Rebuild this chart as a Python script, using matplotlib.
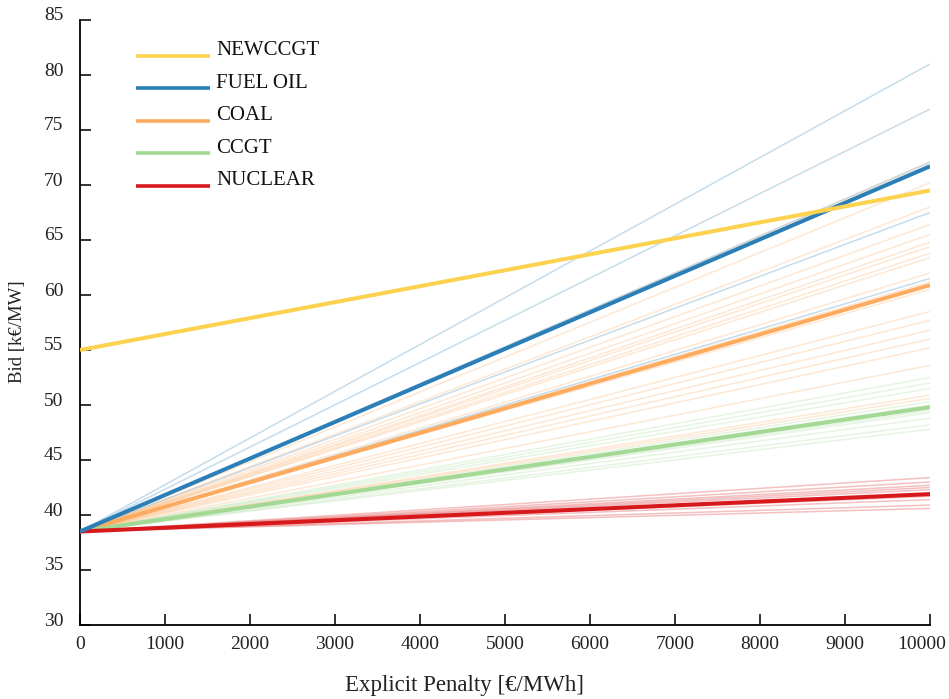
import numpy as np
import matplotlib.pyplot as plt
from matplotlib import transforms

plt.rcParams['font.family'] = ['Liberation Serif', 'DejaVu Serif']

penalty = [0, 10000]
start_bid = 38.5

# technology: (bid at 0, bid at 10000) for the reference case
technologies = ["NEWCCGT", "FUEL OIL", "COAL", "CCGT", "NUCLEAR"]
main_start = [55.0, 38.5, 38.5, 38.5, 38.5]
main_end = [69.5, 71.7, 60.9, 49.8, 41.9]
colors = ["#fdd24f", "#2b7fb8", "#fdab5f", "#a3d995", "#d7191c"]

# bids at 10000 for the other scenarios
fuel_oil_ends = [81.0, 76.9, 72.1, 67.5, 61.5]
coal_ends = [72.0, 70.2, 68.0, 66.4, 65.5, 64.8, 64.4, 63.8, 63.4, 60.5, 58.5,
             57.7, 56.8, 56.0, 55.2, 53.6, 50.9, 50.6, 61.2, 62.0]
ccgt_ends = [52.5, 52.0, 51.5, 50.3, 49.3, 48.8, 48.2, 47.8, 50.0, 49.5]
nuclear_ends = [43.4, 43.0, 42.5, 42.3, 41.4, 40.9, 40.6, 42.7, 41.7]

fig = plt.figure(figsize=(9.49, 6.99), dpi=100)
ax = fig.add_axes([80 / 949, 1 - 625 / 699, 850 / 949, 605 / 699])

for ends, c in [(fuel_oil_ends, colors[1]), (coal_ends, colors[2]),
                (ccgt_ends, colors[3]), (nuclear_ends, colors[4])]:
    for e in ends:
        ax.plot(penalty, [start_bid, e], color=c, lw=1.1, alpha=0.27,
                solid_capstyle='butt')

for i in [2, 3, 4, 1, 0]:
    ax.plot(penalty, [main_start[i], main_end[i]], color=colors[i], lw=2.9,
            solid_capstyle='butt', zorder=3)

# legend drawn by hand so that the sample line sits on the text baseline
for k, (name, c) in enumerate(zip(technologies, colors)):
    y = 0.9405 - k * 0.0537
    ax.plot([0.066, 0.153], [y, y], color=c, lw=2.6, transform=ax.transAxes,
            solid_capstyle='butt', clip_on=False)
    ax.text(0.160, y + 0.001, name, transform=ax.transAxes, fontsize=15,
            va='baseline', ha='left', color='#111111')

ax.set_xlim(0, 10000)
ax.set_ylim(30, 85)
ax.set_xticks(np.arange(0, 10001, 1000))
ax.set_yticks(np.arange(30, 86, 5))
ax.spines['top'].set_visible(False)
ax.spines['right'].set_visible(False)
ax.spines['left'].set_linewidth(1.3)
ax.spines['bottom'].set_linewidth(1.3)
ax.tick_params(direction='in', length=8, width=1.3, labelsize=14,
               colors='#222222')
ax.tick_params(axis='x', pad=8)
ax.tick_params(axis='y', pad=12)

# y labels sit a little above their ticks, last x label pulled inside
shift_up = transforms.ScaledTranslation(0, 6 / 100, fig.dpi_scale_trans)
for lab in ax.get_yticklabels():
    lab.set_transform(lab.get_transform() + shift_up)
last = ax.get_xticklabels()[-1]
last.set_transform(last.get_transform() +
                   transforms.ScaledTranslation(-8 / 100, 0, fig.dpi_scale_trans))

ax.set_xlabel("Explicit Penalty [€/MWh]", fontsize=16.5, color='#222222')
ax.xaxis.set_label_coords(0.452, -0.082)
ax.set_ylabel("Bid [k€/MW]", fontsize=13.5, color='#222222')
ax.yaxis.set_label_coords(-0.064, 0.484)

plt.savefig("out.png", dpi=100)
